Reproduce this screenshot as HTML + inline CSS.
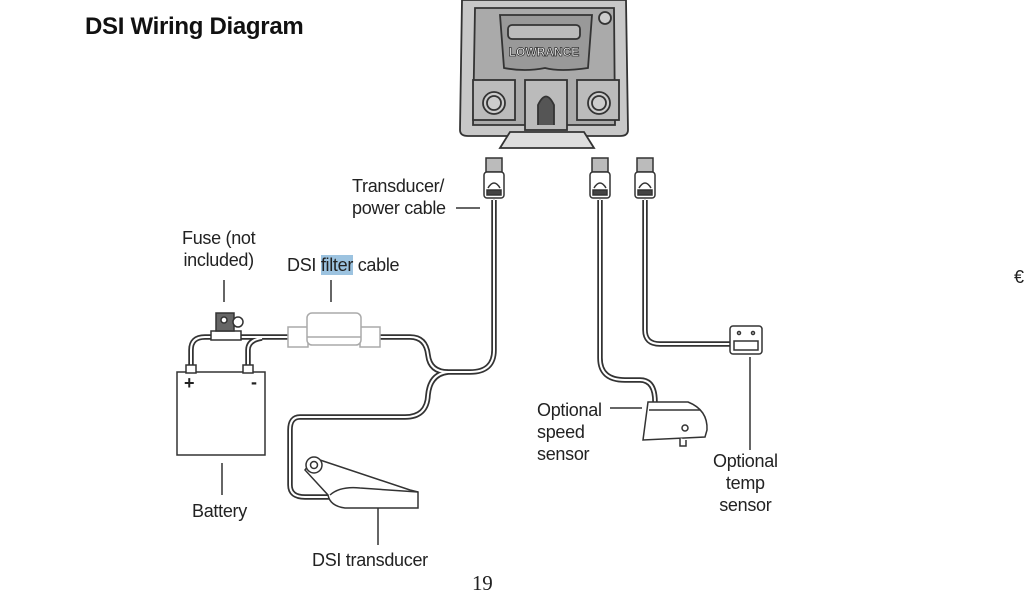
<!DOCTYPE html>
<html><head><style>
body{margin:0;width:1024px;height:600px;background:#fff;overflow:hidden;position:relative;font-family:"Liberation Sans",Arial,sans-serif;color:#222}
.t{position:absolute;font-size:18px;line-height:22px;letter-spacing:-0.3px}
</style></head><body>
<div class="t" style="left:85px;top:12px;font-size:24px;line-height:30px;font-weight:bold;color:#111">DSI Wiring Diagram</div>
<div class="t" style="left:352px;top:175px">Transducer/<br>power cable</div>
<div class="t" style="left:182px;top:227px;text-align:center">Fuse (not<br>included)</div>
<div class="t" style="left:287px;top:254px">DSI <span style="background:#9cc3e0">filter</span> cable</div>
<div class="t" style="left:192px;top:500px">Battery</div>
<div class="t" style="left:312px;top:549px">DSI transducer</div>
<div class="t" style="left:537px;top:399px">Optional<br>speed<br>sensor</div>
<div class="t" style="left:713px;top:450px;text-align:center">Optional<br>temp<br>sensor</div>
<div class="t" style="left:472px;top:572px;font-family:'Liberation Serif',serif;font-size:21px">19</div>
<div class="t" style="left:1014px;top:266px">€</div>
<svg width="1024" height="600" style="position:absolute;left:0;top:0" fill="none" stroke="#333">
<g stroke-width="1.5">
<line x1="456" y1="208" x2="480" y2="208"/>
<line x1="224" y1="280" x2="224" y2="302"/>
<line x1="331" y1="280" x2="331" y2="302"/>
<line x1="222" y1="463" x2="222" y2="495"/>
<line x1="378" y1="508" x2="378" y2="545"/>
<line x1="610" y1="408" x2="642" y2="408"/>
<line x1="750" y1="357" x2="750" y2="450"/>
</g>
<g stroke-linecap="round" stroke-linejoin="round">
<path id="c1" d="M494 200 V350 Q494 372 470 372 H448 Q430 372 428 355 Q426 337 410 337 H380"/>
<path id="c2" d="M448 372 Q430 374 428 395 Q427 417 405 417 H300 Q290 417 290 430 V485 Q290 497 305 497 H335"/>
<path id="c3" d="M600 200 V358 Q600 380 625 380 H640 Q655 380 655 402"/>
<path id="c4" d="M645 200 V330 Q645 344 660 344 H735"/>
<path id="c5" d="M191 372 V350 Q191 337 205 337 H288 M248 372 V350 Q248 340 262 338"/>
</g>
<g stroke="#333" stroke-width="5.5"><use href="#c1"/><use href="#c2"/><use href="#c3"/><use href="#c4"/><use href="#c5"/></g>
<g stroke="#fff" stroke-width="2"><use href="#c1"/><use href="#c2"/><use href="#c3"/><use href="#c4"/><use href="#c5"/></g>
<g stroke-width="1.5" fill="#fff">
<rect x="486" y="158" width="16" height="14" fill="#bbb"/><rect x="484" y="172" width="20" height="26" rx="3"/><path d="M488 188 Q494 178 500 188" /><rect x="487" y="190" width="14" height="5" fill="#444"/>
<rect x="592" y="158" width="16" height="14" fill="#bbb"/><rect x="590" y="172" width="20" height="26" rx="3"/><path d="M594 188 Q600 178 606 188"/><rect x="593" y="190" width="14" height="5" fill="#444"/>
<rect x="637" y="158" width="16" height="14" fill="#bbb"/><rect x="635" y="172" width="20" height="26" rx="3"/><path d="M639 188 Q645 178 651 188"/><rect x="638" y="190" width="14" height="5" fill="#444"/>
</g>
<g stroke-width="1.5" fill="#fff">
<rect x="177" y="372" width="88" height="83"/>
<rect x="186" y="365" width="10" height="8"/><rect x="243" y="365" width="10" height="8"/>
</g>
<text x="184" y="389" fill="#222" stroke="none" font-size="18" font-weight="bold" font-family="Liberation Sans">+</text>
<text x="251" y="388" fill="#222" stroke="none" font-size="18" font-weight="bold" font-family="Liberation Sans">-</text>
<g stroke-width="1.5"><rect x="211" y="331" width="30" height="9" fill="#fff"/><rect x="216" y="313" width="18" height="18" fill="#666"/><circle cx="224" cy="320" r="3" fill="#fff"/><circle cx="238" cy="322" r="5" fill="#fff"/></g>
<g stroke="#aaa" stroke-width="1.5" fill="#fff">
<rect x="288" y="327" width="20" height="20"/><rect x="360" y="327" width="20" height="20"/>
<rect x="307" y="313" width="54" height="32" rx="5"/>
<line x1="307" y1="337" x2="361" y2="337"/>
</g>
<g stroke-width="1.5" fill="#fff">
<path d="M314 458 L410 490 L418 492 L418 508 L345 508 Q330 506 328 495 L305 470 Z"/>
<path d="M330 495 Q340 486 360 488 L418 492"/>
<circle cx="314" cy="465" r="8"/><circle cx="314" cy="465" r="3.5"/>
</g>
<g stroke-width="1.5" fill="#fff">
<path d="M648 402 L688 402 Q708 410 707 430 L705 437 L643 440 Z"/>
<line x1="649" y1="410" x2="700" y2="410"/>
<circle cx="685" cy="428" r="3"/>
<path d="M680 438 v8 h6 v-6"/>
</g>
<g stroke-width="1.5" fill="#fff">
<rect x="730" y="326" width="32" height="28" rx="3"/>
<circle cx="739" cy="333" r="1.5"/><circle cx="753" cy="333" r="1.5"/>
<rect x="734" y="341" width="24" height="9"/>
</g>
<g stroke-width="1.8" fill="#fff">
<path d="M462 0 L626 0 L628 130 Q628 136 620 136 L468 136 Q460 136 460 130 Z" fill="#c8c8c8"/>
<path d="M475 8 L614 8 L615 125 L473 125 Z" fill="#aaa"/>
<path d="M500 15 L592 15 L588 68 Q560 72 545 68 Q525 72 504 68 Z" fill="#999"/>
<rect x="508" y="25" width="72" height="14" rx="4" fill="#bbb"/>
<rect x="473" y="80" width="42" height="40" fill="#bbb"/><rect x="577" y="80" width="42" height="40" fill="#bbb"/>
<circle cx="494" cy="103" r="11" fill="#ccc"/><circle cx="494" cy="103" r="7" fill="#ccc"/>
<circle cx="599" cy="103" r="11" fill="#ccc"/><circle cx="599" cy="103" r="7" fill="#ccc"/>
<rect x="525" y="80" width="42" height="50" fill="#bbb"/>
<path d="M538 125 V105 Q546 88 554 105 V125" fill="#555"/>
<path d="M500 148 L510 132 H584 L594 148 Z" fill="#ddd"/>
<circle cx="605" cy="18" r="6" fill="#ccc"/>
</g>
<text x="544" y="56" text-anchor="middle" font-size="12" font-weight="bold" fill="#fff" stroke="#333" stroke-width="0.8" font-family="Liberation Sans">LOWRANCE</text>
</svg>
</body></html>
